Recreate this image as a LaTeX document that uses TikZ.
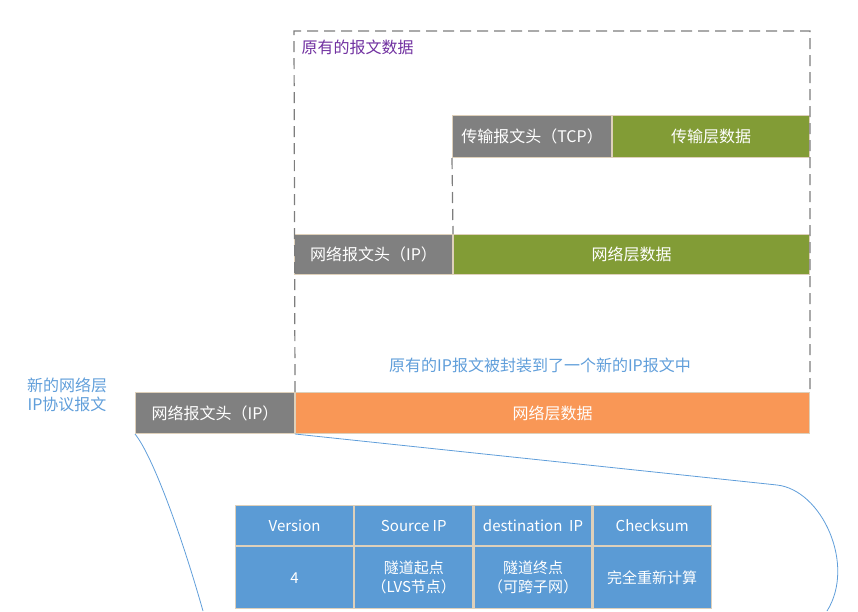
\documentclass[tikz,border=0pt]{standalone}
\usepackage{fontspec}
\setmainfont{Noto Sans CJK SC}
\usepackage{tikz}
\usetikzlibrary{positioning}

\definecolor{hdrgray}{RGB}{128,128,128}
\definecolor{olive}{RGB}{130,156,54}
\definecolor{orangefill}{RGB}{249,151,86}
\definecolor{cellblue}{RGB}{91,155,213}
\definecolor{boxline}{RGB}{222,208,186}
\definecolor{framegray}{RGB}{125,125,125}
\definecolor{notepurple}{RGB}{112,48,160}
\definecolor{noteblue}{RGB}{96,158,218}

\begin{document}
\begin{tikzpicture}[x=1pt,y=-1pt,
  seg/.style={rectangle,draw=boxline,line width=1pt,text=white,inner sep=0pt,
    font=\fontsize{16}{19}\selectfont,anchor=north west},
  cell/.style={rectangle,draw=boxline,line width=1.2pt,fill=cellblue,text=white,inner sep=0pt,
    minimum width=118pt,align=center,font=\fontsize{15}{19}\selectfont},
  frame/.style={draw=framegray,line width=1.2pt,dash pattern=on 11pt off 6pt},
  link/.style={draw=noteblue,line width=0.8pt},
  note/.style={text=noteblue,align=center,font=\fontsize{16}{19}\selectfont}]
  \useasboundingbox (0,0) rectangle (858,611);

  % original packet
  \node[seg,fill=hdrgray,minimum width=159pt,minimum height=42pt] (tcphead) at (452,115) {传输报文头（TCP）};
  \node[seg,fill=olive,minimum width=197pt,minimum height=42pt,right=0pt of tcphead] (tcpdata) {传输层数据};

  \node[seg,fill=hdrgray,minimum width=158pt,minimum height=40pt] (iphead) at (294,234) {网络报文头（IP）};
  \node[seg,fill=olive,minimum width=356pt,minimum height=40pt,right=0pt of iphead] (ipdata) {网络层数据};

  % new packet
  \node[seg,fill=hdrgray,minimum width=159pt,minimum height=41pt] (newhead) at (135,392) {网络报文头（IP）};
  \node[seg,fill=orangefill,minimum width=514pt,minimum height=41pt,right=0pt of newhead] (newdata) {网络层数据};

  \coordinate (ftop) at (294,31);
  \draw[frame] (newdata.north west) -- (ftop) -| (newdata.north east);
  \draw[frame] (tcphead.south west) -- (ipdata.north west);

  \node[anchor=west,text=notepurple,font=\fontsize{16}{19}\selectfont] (origlabel) at (298,47) {原有的报文数据};
  \node[note] (caption) at (540,365) {原有的IP报文被封装到了一个新的IP报文中};
  \node[note] (newlabel) at (67,395) {新的网络层\\IP协议报文};

  % header fields
  \node[cell,below right,minimum height=40pt] (h1) at (235,505) {Version};
  \node[cell,minimum height=40pt,right=0pt of h1] (h2) {Source IP};
  \node[cell,minimum height=40pt,right=0pt of h2] (h3) {destination\ \ IP};
  \node[cell,minimum height=40pt,right=0pt of h3] (h4) {Checksum};

  \node[cell,below right,minimum height=62pt] (v1) at (h1.south west) {4};
  \node[cell,minimum height=62pt,right=0pt of v1] (v2) {隧道起点\\（LVS节点）};
  \node[cell,minimum height=62pt,right=0pt of v2] (v3) {隧道终点\\（可跨子网）};
  \node[cell,minimum height=62pt,right=0pt of v3] (v4) {完全重新计算};

  \coordinate (lend) at (203,611);
  \coordinate (rbend) at (777,485);
  \coordinate (rend) at (827,611);
  \draw[link] (newhead.south west) .. controls (152,455) and (180,530) .. (lend);
  \draw[link] (newhead.south east) -- (rbend) .. controls (822,490) and (856,565) .. (rend);
\end{tikzpicture}
\end{document}
